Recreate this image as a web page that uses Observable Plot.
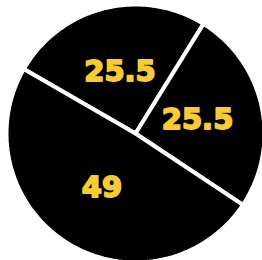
<!DOCTYPE html>
<html>
<head>
<meta charset="utf-8">
<script src="https://cdn.jsdelivr.net/npm/d3@7"></script>
<script src="https://cdn.jsdelivr.net/npm/@observablehq/plot@0.6"></script>
<style>
  html, body { margin: 0; padding: 0; background: #fff; }
</style>
</head>
<body>
<div id="chart"></div>
<script>
// Data
const sliceNames = ["Top", "Right", "Bottom"];
const sliceValues = [25.5, 25.5, 49];
const sliceLabels = ["25.5", "25.5", "49"];

// Pie layout (clockwise from 12 o'clock, starting at -60°)
const start = -Math.PI / 3;
const pie = d3.pie().sort(null).startAngle(start).endAngle(start + 2 * Math.PI);
const arcs = pie(sliceValues);

const R = 129;        // outer radius in scale units
const LR = 0.5 * 127; // label radius

const points = [];
arcs.forEach((a, i) => {
  points.push({slice: sliceNames[i], x: 0, y: 0});
  const n = 80;
  for (let k = 0; k <= n; k++) {
    const t = a.startAngle + (a.endAngle - a.startAngle) * k / n;
    points.push({slice: sliceNames[i], x: R * Math.sin(t), y: R * Math.cos(t)});
  }
});

const labelData = arcs.map((a, i) => {
  const m = (a.startAngle + a.endAngle) / 2;
  return {text: sliceLabels[i], x: LR * Math.sin(m), y: LR * Math.cos(m)};
});

const chart = Plot.plot({
  width: 262,
  height: 260,
  margin: 0,
  x: {domain: [-135, 127], axis: null},
  y: {domain: [-127, 133], axis: null},
  style: {background: "#fff"},
  marks: [
    Plot.line(points, {x: "x", y: "y", z: "slice", fill: "#000", stroke: "#fff",
      strokeWidth: 4, strokeLinejoin: "round", curve: "linear-closed"}),
    Plot.text(labelData, {x: "x", y: "y", text: "text", fill: "#f6cb34",
      stroke: "#f6cb34", strokeWidth: 1.8, strokeLinejoin: "round",
      fontSize: 29, fontWeight: "bold", fontFamily: "DejaVu Sans"})
  ]
});
document.getElementById("chart").append(chart);
</script>
</body>
</html>
